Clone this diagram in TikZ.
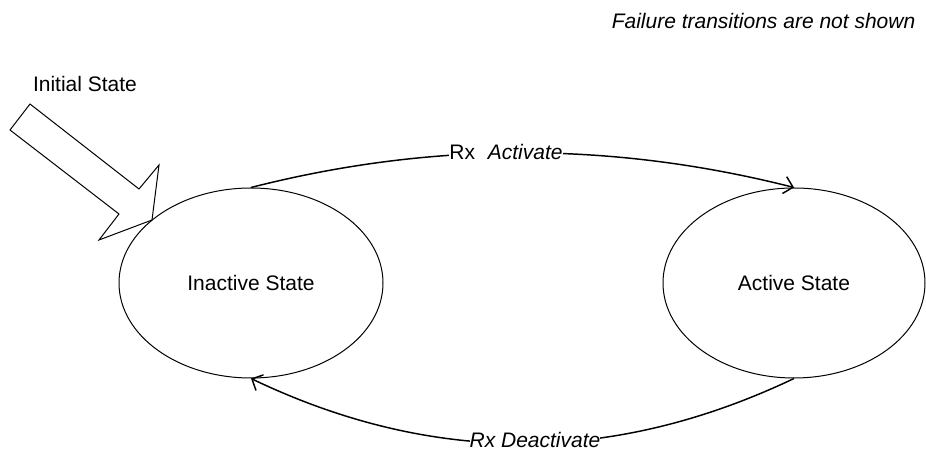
\documentclass[tikz,border=0pt]{standalone}
\usepackage{fontspec}
\setmainfont{Liberation Sans}
\usetikzlibrary{shapes.geometric,arrows.meta}
\begin{document}
\begin{tikzpicture}[x=0.75pt,y=-0.75pt,
  every node/.style={font=\fontsize{15.75}{19}\selectfont},
  state/.style={ellipse,draw,line width=0.75pt,minimum height=142.5pt,inner sep=0pt},
  trans/.style={line width=1.1pt,-{Straight Barb[length=6.5pt,width=13pt,line width=1.1pt]}},
  tlabel/.style={fill=white,inner sep=0pt,anchor=base},
  entry/.style={draw,line width=0.75pt,line join=miter}
]
\fill[white] (0,0) rectangle (926,452);
\useasboundingbox (0,0) rectangle (926,452);

% the two states
\node[state,minimum width=198pt] (inactive) at (251,283) {Inactive State};
\node[state,minimum width=196.5pt] (active) at (794,283) {Active State};

% transitions between the states
\draw[trans] (inactive.north) .. controls (432,141.3) and (612,141.3) .. (active.north);
\draw[trans] (active.south) .. controls (612,465) and (432,465) .. (inactive.south);

\node[tlabel] (act) at (506,159.5) {Rx\hspace{9.5pt}\textit{Activate}};
\node[tlabel] (deact) at (535,448) {\textit{Rx Deactivate}};

% entry into the initial state
\node[anchor=base] (init) at (85,92) {Initial State};
\draw[entry] (30,104) -- (139,189) -- (159,165) -- (152,220) -- (99,240) -- (119,214) -- (10,130) -- cycle;

\node[anchor=base east] (note) at (920,29) {\textit{Failure transitions are not shown}};
\end{tikzpicture}
\end{document}
